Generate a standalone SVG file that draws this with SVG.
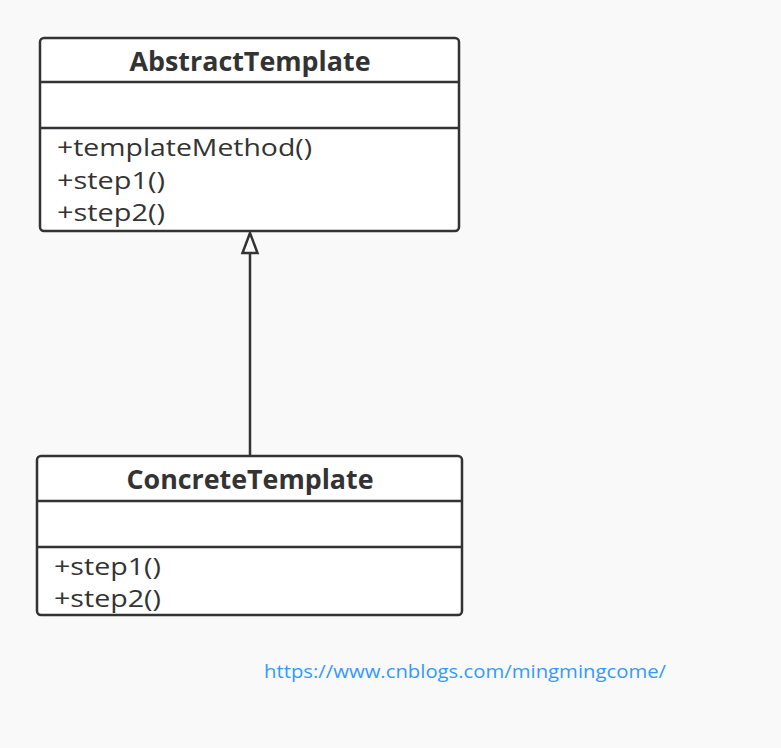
<svg xmlns="http://www.w3.org/2000/svg" width="781" height="748" viewBox="0 0 781 748">
<style>
.box{fill:#ffffff;stroke:#333333;stroke-width:2.5}
.div{stroke:#333333;stroke-width:2.5}
.title{font-family:"Open Sans","Noto Sans","Liberation Sans",sans-serif;font-weight:bold;font-size:26px;fill:#333333;text-anchor:middle}
.mem{font-family:"Open Sans","Noto Sans","Liberation Sans",sans-serif;font-size:23.5px;fill:#333333}
.link{font-family:"Open Sans","Noto Sans","Liberation Sans",sans-serif;font-size:19px;fill:#3399ff}
.conn{stroke:#333333;stroke-width:2.5;fill:none}
</style>
<rect width="781" height="748" fill="#f9f9f9"/>
<g id="connectors">
<path class="conn" d="M250 456 L250 253"/>
<path d="M250 233 L242.5 253 L257.5 253 Z" fill="#ffffff" stroke="#333333" stroke-width="2.5"/>
</g>
<g id="AbstractTemplate">
<rect class="box" x="40" y="38" width="419" height="193" rx="4"/>
<line class="div" x1="40" y1="82" x2="459" y2="82"/>
<line class="div" x1="40" y1="128" x2="459" y2="128"/>
<text class="title" x="250" y="71" textLength="241" lengthAdjust="spacingAndGlyphs">AbstractTemplate</text>
<text class="mem" x="57" y="156" textLength="255" lengthAdjust="spacingAndGlyphs">+templateMethod()</text>
<text class="mem" x="57" y="189" textLength="108" lengthAdjust="spacingAndGlyphs">+step1()</text>
<text class="mem" x="57" y="221" textLength="108" lengthAdjust="spacingAndGlyphs">+step2()</text>
</g>
<g id="ConcreteTemplate">
<rect class="box" x="37" y="456" width="425" height="159" rx="4"/>
<line class="div" x1="37" y1="501" x2="462" y2="501"/>
<line class="div" x1="37" y1="547" x2="462" y2="547"/>
<text class="title" x="250" y="489" textLength="247" lengthAdjust="spacingAndGlyphs">ConcreteTemplate</text>
<text class="mem" x="54" y="575" textLength="107" lengthAdjust="spacingAndGlyphs">+step1()</text>
<text class="mem" x="54" y="607" textLength="107" lengthAdjust="spacingAndGlyphs">+step2()</text>
</g>
<text class="link" x="264" y="678" textLength="402" lengthAdjust="spacingAndGlyphs">https://www.cnblogs.com/mingmingcome/</text>
</svg>
